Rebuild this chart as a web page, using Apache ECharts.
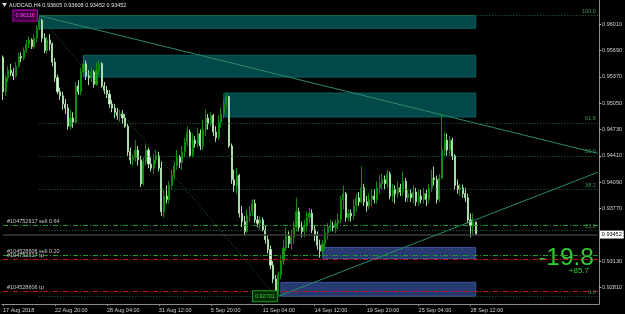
<!DOCTYPE html>
<html><head><meta charset="utf-8">
<script src="https://cdn.jsdelivr.net/npm/echarts@6/dist/echarts.min.js"></script>
<style>html,body{margin:0;padding:0;background:#000;}#c{width:625px;height:314px;}</style>
</head><body><div id="c"></div>
<script>
const symbolName = 'AUDCAD,H4';
const xTickLabels = ['17 Aug 2018','22 Aug 20:00','28 Aug 04:00','31 Aug 12:00','5 Sep 20:00','11 Sep 04:00','14 Sep 12:00','19 Sep 20:00','25 Sep 04:00','28 Sep 12:00'];
const yTickValues = [0.96010,0.95690,0.95370,0.95050,0.94730,0.94410,0.94090,0.93770,0.93130,0.92810];

const open = [
.9561,.9519,.9536,.9545,.9542,.9538,.9550,.9562,.9560,.9569,
.9577,.9582,.9574,.9584,.9596,.9606,.9584,.9569,.9582,.9577,
.9555,.9536,.9519,.9514,.9504,.9499,.9477,.9487,.9482,.9526,
.9519,.9543,.9553,.9538,.9536,.9543,.9528,.9545,.9553,.9526,
.9521,.9516,.9504,.9499,.9494,.9490,.9492,.9487,.9477,.9446,
.9436,.9439,.9448,.9436,.9407,.9434,.9448,.9431,.9426,.9436,
.9441,.9426,.9373,.9392,.9388,.9405,.9417,.9429,.9439,.9433,
.9446,.9458,.9470,.9441,.9460,.9456,.9468,.9453,.9473,.9487,
.9480,.9490,.9470,.9463,.9482,.9492,.9504,.9513,.9453,.9412,
.9405,.9417,.9371,.9361,.9349,.9368,.9373,.9383,.9363,.9359,
.9363,.9351,.9339,.9327,.9308,.9291,.9276,.9296,.9313,.9329,
.9344,.9334,.9342,.9354,.9373,.9354,.9349,.9356,.9366,.9371,
.9351,.9344,.9332,.9325,.9334,.9347,.9354,.9356,.9354,.9359,
.9363,.9388,.9395,.9366,.9371,.9368,.9380,.9390,.9385,.9402,
.9385,.9380,.9388,.9392,.9388,.9402,.9407,.9412,.9407,.9419,
.9392,.9400,.9395,.9402,.9397,.9410,.9390,.9395,.9390,.9397,
.9385,.9392,.9388,.9395,.9388,.9402,.9414,.9412,.9388,.9414,
.9448,.9460,.9448,.9460,.9441,.9405,.9400,.9402,.9395,.9390,
.9363,.9356,.93605];
const close = [
.9519,.9536,.9545,.9542,.9538,.9550,.9562,.9560,.9569,.9577,
.9582,.9574,.9584,.9596,.9606,.9584,.9569,.9582,.9577,.9555,
.9536,.9519,.9514,.9504,.9499,.9477,.9487,.9482,.9526,.9519,
.9543,.9553,.9538,.9536,.9543,.9528,.9545,.9553,.9526,.9521,
.9516,.9504,.9499,.9494,.9490,.9492,.9487,.9477,.9446,.9436,
.9439,.9448,.9436,.9407,.9434,.9448,.9431,.9426,.9436,.9441,
.9426,.9373,.9392,.9388,.9405,.9417,.9429,.9439,.9433,.9446,
.9458,.9470,.9441,.9460,.9456,.9468,.9453,.9473,.9487,.9480,
.9490,.9470,.9463,.9482,.9492,.9504,.9513,.9453,.9412,.9405,
.9417,.9371,.9361,.9349,.9368,.9373,.9383,.9363,.9359,.9363,
.9351,.9339,.9327,.9308,.9291,.9276,.9296,.9313,.9329,.9344,
.9334,.9342,.9354,.9373,.9354,.9349,.9356,.9366,.9371,.9351,
.9344,.9332,.9325,.9334,.9347,.9354,.9356,.9354,.9359,.9363,
.9388,.9395,.9366,.9371,.9368,.9380,.9390,.9385,.9402,.9385,
.9380,.9388,.9392,.9388,.9402,.9407,.9412,.9407,.9419,.9392,
.9400,.9395,.9402,.9397,.9410,.9390,.9395,.9390,.9397,.9385,
.9392,.9388,.9395,.9388,.9402,.9414,.9412,.9388,.9414,.9448,
.9460,.9448,.9460,.9441,.9405,.9400,.9402,.9395,.9390,.9363,
.9356,.93605,.93452];
const high = [
.9563,.9539,.9550,.9553,.9548,.9555,.9566,.9567,.9573,.9582,
.9586,.9584,.9589,.9600,.96116,.9608,.9590,.9586,.9589,.9579,
.9560,.9540,.9524,.9519,.9510,.9504,.9497,.9494,.9531,.9533,
.9548,.9563,.9557,.9545,.9548,.9545,.9555,.9557,.9555,.9531,
.9526,.9521,.9509,.9504,.9499,.9497,.9497,.9492,.9480,.9451,
.9443,.9460,.9453,.9441,.9439,.9456,.9451,.9439,.9443,.9448,
.9446,.9434,.9400,.9405,.9410,.9424,.9434,.9448,.9442,.9453,
.9463,.9477,.9473,.9468,.9465,.9475,.9473,.9485,.9497,.9492,
.9494,.9492,.9477,.9490,.9499,.9509,.9517,.9514,.9456,.9424,
.9426,.9419,.9380,.9368,.9376,.9380,.9388,.9388,.9368,.9368,
.9366,.9356,.9344,.9332,.9313,.9296,.9300,.9320,.9339,.9354,
.9349,.9351,.9361,.9390,.9378,.9361,.9363,.9373,.9378,.9376,
.9356,.9349,.9339,.9339,.9354,.9359,.9363,.9361,.9363,.9371,
.9392,.9405,.9397,.9376,.9376,.9388,.9395,.9397,.9428,.9407,
.9392,.9395,.9400,.9400,.9410,.9417,.9419,.9417,.9424,.9422,
.9407,.9405,.9410,.9407,.9422,.9414,.9400,.9400,.9405,.9402,
.9400,.9400,.9402,.9400,.9407,.9424,.9428,.9417,.9419,.9491,
.9470,.9468,.9465,.9463,.9443,.9412,.9407,.9406,.9402,.9395,
.9371,.9371,.93608];
const low = [
.9509,.9514,.9531,.9538,.9533,.9536,.9548,.9555,.9557,.9566,
.9572,.9571,.9571,.9579,.9594,.9579,.9566,.9565,.9569,.9550,
.9531,.9516,.9509,.9497,.9492,.9473,.9473,.9475,.9480,.9515,
.9515,.9539,.9533,.9527,.9531,.9524,.9526,.9540,.9524,.9516,
.9511,.9499,.9494,.9487,.9485,.9482,.9480,.9475,.9441,.9431,
.9429,.9434,.9429,.9403,.9405,.9429,.9426,.9422,.9419,.9431,
.9422,.9368,.9366,.9383,.9383,.9400,.9412,.9424,.9426,.9424,
.9439,.9453,.9439,.9439,.9451,.9451,.9448,.9448,.9465,.9473,
.9477,.9465,.9458,.9460,.9475,.9487,.9499,.9451,.9407,.9397,
.9395,.9366,.9354,.9344,.9347,.9361,.9368,.9359,.9354,.9351,
.9349,.9334,.9322,.9303,.9286,.92701,.9271,.9291,.9308,.9325,
.9329,.9327,.9334,.9349,.9349,.9342,.9342,.9349,.9359,.9347,
.9337,.9327,.9317,.9320,.9327,.9339,.9349,.9349,.9347,.9351,
.9359,.9376,.9361,.9361,.9361,.9363,.9373,.9380,.9383,.9380,
.9373,.9376,.9380,.9383,.9383,.9395,.9400,.9400,.9402,.9388,
.9385,.9383,.9390,.9392,.9392,.9385,.9385,.9385,.9383,.9380,
.9380,.9383,.9383,.9380,.9383,.9397,.9405,.9383,.9385,.9412,
.9441,.9441,.9441,.9436,.9400,.9395,.9392,.9390,.9385,.9359,
.9342,.9344,.93452];

// rectangles (bar index where they start, top & bottom price), all end on last bar
const zoneStart  = [14, 31, 85, 123, 107];
const zoneTop    = [0.96116, 0.95634, 0.95174, 0.93295, 0.92871];
const zoneBottom = [0.95962, 0.95368, 0.94883, 0.93161, 0.92701];
const zoneKind   = ['sell','sell','sell','buy','buy'];
// trend lines [barIndex, price]
const trendDown = [[14, 0.96116], [229, 0.9444]];
const trendUp   = [[106, 0.92701], [229, 0.9421]];
// fibonacci
const fibLevels = ['100.0','61.8','50.0','38.2','23.6','0.0'];
const fibPrices = [0.96116, 0.94811, 0.94409, 0.94006, 0.93507, 0.92701];
const fibAnchor = [[14, 0.96116], [105, 0.92701]];
// orders
const orderLabels = ['#104752617 sell 0.64','#104528606 sell 0.20','#104752617 tp','#104528606 tp'];
const orderPrices = [0.93561, 0.93198, 0.93149, 0.92761];
const orderType   = ['open','open','tp','tp'];
const profitPips  = '-19.8';
const profitMoney = '+85.7';

// H4 bar times (weekdays only)
const months=['Jan','Feb','Mar','Apr','May','Jun','Jul','Aug','Sep','Oct','Nov','Dec'];
const categories=[];
let t=Date.UTC(2018,7,17,12);
while(categories.length<230){
  const d=new Date(t), wd=d.getUTCDay();
  if(wd!==0&&wd!==6) categories.push(d.getUTCDate()+' '+months[d.getUTCMonth()]+' '+String(d.getUTCHours()).padStart(2,'0')+':00');
  t+=4*3600e3;
}
const last = close.length-1;
const rightIdx = categories.length-1;
const FONT = 'Liberation Sans';
const FS = 5.5;
const candles = open.map((o,i)=>[o, close[i], low[i], high[i]]);
const showTick = (i)=> i%20===0 && i/20 < xTickLabels.length;

const areaData = zoneStart.map((s,i)=>[
  {coord:[s, zoneTop[i]], itemStyle: zoneKind[i]==='sell'
     ? {color:'#024848', borderColor:'#0a6262', borderWidth:1}
     : {color:'#273a72', borderColor:'#3c5394', borderWidth:1}},
  {coord:[last, zoneBottom[i]]}
]);

const lineData = [];
lineData.push([{coord:trendDown[0], lineStyle:{color:'#2a8a68', width:1, type:'solid'}}, {coord:trendDown[1]}]);
lineData.push([{coord:trendUp[0], lineStyle:{color:'#2a8a68', width:1, type:'solid'}}, {coord:trendUp[1]}]);
lineData.push([{coord:fibAnchor[0], lineStyle:{color:'#2a6e40', width:1, type:[1,2]}}, {coord:fibAnchor[1]}]);
fibPrices.forEach((p,i)=>{
  lineData.push([{coord:[fibAnchor[0][0], p], lineStyle:{color:'#2a6e40', width:1, type:[1,2]},
     label:{show:true, position:'insideEndTop', formatter:fibLevels[i], color:'#3a9a55', fontSize:FS, fontFamily:FONT, distance:[2,1]}},
     {coord:[rightIdx, p]}]);
});
orderPrices.forEach((p,i)=>{
  lineData.push([{coord:[0, p], lineStyle:{color: orderType[i]==='open' ? '#229a2a' : '#c01818', width:1, type:[5,2,1,2]},
     label:{show:true, position:'insideStartTop', formatter:orderLabels[i], color:'#c8c8c8', fontSize:FS, fontFamily:FONT, distance:[4,1]}},
     {coord:[rightIdx, p]}]);
});
const bidLine = [[{coord:[0, close[last]], lineStyle:{color:'#3c3c3c', width:1.5, type:'solid'},
  label:{show:true, position:'end', formatter: close[last].toFixed(5), color:'#000', backgroundColor:'#fff', fontSize:FS, fontFamily:FONT, padding:[1,2], distance:2}},
  {coord:[rightIdx, close[last]]}]];

const chart = echarts.init(document.getElementById('c'));
chart.setOption({
  backgroundColor:'#000',
  animation:false,
  grid:{left:0, right:25, top:0, bottom:10},
  xAxis:{type:'category', data:categories, boundaryGap:true,
    axisLine:{lineStyle:{color:'#8c8c8c'}},
    axisTick:{show:true, interval:showTick, alignWithLabel:true, length:2, lineStyle:{color:'#8c8c8c'}},
    axisLabel:{interval:showTick, formatter:(v,i)=>xTickLabels[i/20]||'', align:'left', color:'#d0d0d0', fontSize:FS, fontFamily:FONT, margin:3},
    splitLine:{show:false}},
  yAxis:{type:'value', position:'right', min:0.92607, max:0.96306,
    axisLine:{show:true, lineStyle:{color:'#8c8c8c'}},
    axisTick:{show:true, customValues:yTickValues, length:2, lineStyle:{color:'#c0c0c0'}},
    axisLabel:{customValues:yTickValues, formatter:(v)=>v.toFixed(5), color:'#d0d0d0', fontSize:FS, fontFamily:FONT, margin:3},
    splitLine:{show:false}},
  series:[
    {type:'line', data:[], z:1, silent:true, markArea:{silent:true, data:areaData},
      markLine:{silent:true, symbol:'none', animation:false, data:bidLine}},
    {type:'candlestick', data:candles, z:3, barWidth:1.6,
      itemStyle:{color:'#14a014', borderColor:'#0e8c0e', color0:'#f2fff2', borderColor0:'#a8dca8', borderWidth:1},
      markPoint:{silent:true, symbol:'rect', symbolSize:1, itemStyle:{color:'transparent'}, data:[
        {coord:[14, high[14]], label:{show:true, position:'left', distance:2, formatter:high[14].toFixed(5), color:'#ff40ff', backgroundColor:'#3c003c', borderColor:'#c000c0', borderWidth:1, padding:[2,2], fontSize:FS, fontFamily:FONT}},
        {coord:[106, low[105]], label:{show:true, position:'left', distance:1, formatter:low[105].toFixed(5), color:'#40d040', backgroundColor:'#002a00', borderColor:'#22a022', borderWidth:1, padding:[2,2], fontSize:FS, fontFamily:FONT}}
      ]}},
    {type:'line', data:[], z:4, silent:true, markLine:{silent:true, symbol:'none', animation:false, data:lineData}}
  ],
  graphic:[
    {type:'polygon', shape:{points:[[2,3],[7,3],[4.5,7]]}, style:{fill:'#d8d8d8'}},
    {type:'text', x:9, y:2.5, style:{text:symbolName+' '+open[last].toFixed(5)+' '+high[last].toFixed(5)+' '+low[last].toFixed(5)+' '+close[last].toFixed(5), fill:'#e0e0e0', font:FS+'px "'+FONT+'"'}},
    {type:'text', x:594, y:258, style:{text:profitPips, fill:'#32cd32', font:'24.5px "'+FONT+'"', align:'right', verticalAlign:'middle'}},
    {type:'text', x:589, y:271, style:{text:profitMoney, fill:'#32cd32', font:'8px "'+FONT+'"', align:'right', verticalAlign:'middle'}}
  ]
});
</script></body></html>
